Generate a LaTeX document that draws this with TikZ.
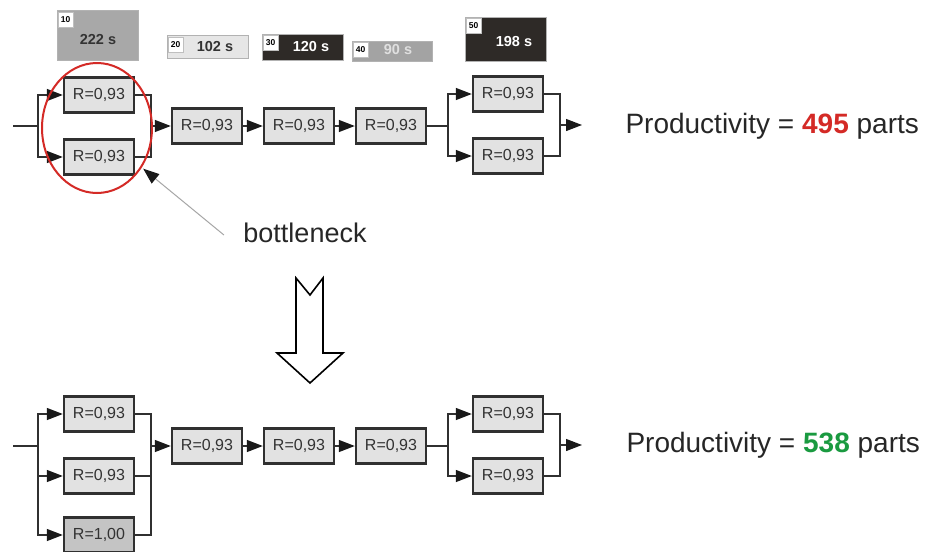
\documentclass[tikz,border=0pt]{standalone}
\usepackage{fontspec}
\setmainfont{Liberation Sans}
\usetikzlibrary{arrows.meta,shapes.geometric,calc}
\definecolor{boxfill}{HTML}{E2E2E2}
\definecolor{boxfilldk}{HTML}{C4C4C4}
\definecolor{boxline}{HTML}{303030}
\definecolor{txt}{HTML}{333333}
\definecolor{labgray}{HTML}{A8A8A8}
\definecolor{lablight}{HTML}{E6E6E6}
\definecolor{labdark}{HTML}{2E2A27}
\definecolor{labmid}{HTML}{A3A3A3}
\definecolor{redbn}{HTML}{D42A26}
\definecolor{greenp}{HTML}{1A9A40}
\tikzset{
  rbox/.style={draw=boxline, line width=2.4pt, fill=boxfill, minimum width=70pt, minimum height=35pt, inner sep=0pt, text=txt, font=\fontsize{16}{18}\selectfont},
  conn/.style={draw=boxline, line width=1.3pt},
  arr/.style={conn, -{Triangle[length=16pt,width=12pt,color=black!90,fill=black!90]}},
  labbox/.style={anchor=north west, inner sep=0pt, draw=gray!60, line width=0.6pt},
  numbox/.style={anchor=north west, fill=white, draw=gray!50, line width=0.4pt, minimum width=15pt, minimum height=15pt, inner sep=0pt, font=\fontsize{8.5}{9}\selectfont\bfseries, text=black},
  labtxt/.style={font=\fontsize{14.5}{16}\selectfont\bfseries},
  prod/.style={anchor=west, font=\fontsize{28}{32}\selectfont, text=black!85}
}
\begin{document}
\begin{tikzpicture}[x=1pt,y=-1pt]
\useasboundingbox[fill=white] (0,0) rectangle (938,552);
% ---- label boxes ----
\node[labbox, fill=labgray, minimum width=81pt, minimum height=50pt] (L10) at (57,10) {};
\node[numbox] (n10) at ([shift={(1,2)}]L10.north west) {10};
\node[labtxt, text=txt] (t10) at (98,40) {222 s};
\node[labbox, fill=lablight, minimum width=81pt, minimum height=23pt] (L20) at (167,35) {};
\node[numbox] (n20) at ([shift={(1,2)}]L20.north west) {20};
\node[labtxt, text=txt] (t20) at (215,47) {102 s};
\node[labbox, fill=labdark, minimum width=81pt, minimum height=26pt] (L30) at (262,34) {};
\node[numbox] (n30) at ([shift={(1,1)}]L30.north west) {30};
\node[labtxt, text=white] (t30) at (311,47) {120 s};
\node[labbox, fill=labmid, minimum width=80pt, minimum height=20pt] (L40) at (352,41) {};
\node[numbox] (n40) at ([shift={(1,1)}]L40.north west) {40};
\node[labtxt, text=white!88!black] (t40) at (398,50) {90 s};
\node[labbox, fill=labdark, minimum width=81pt, minimum height=44pt] (L50) at (465,17) {};
\node[numbox] (n50) at ([shift={(1,1)}]L50.north west) {50};
\node[labtxt, text=white] (t50) at (514,42) {198 s};
% ---- top row ----
\node[rbox] (A1) at (99,95) {R=0,93};
\node[rbox] (A2) at (99,157) {R=0,93};
\node[rbox] (B) at (207,126) {R=0,93};
\node[rbox] (C) at (299,126) {R=0,93};
\node[rbox] (D) at (391,126) {R=0,93};
\node[rbox] (E1) at (508,94) {R=0,93};
\node[rbox] (E2) at (508,156) {R=0,93};
\coordinate (tin) at (13,126);
\coordinate (ts1) at (38,126);
\coordinate (tm1) at (151,126);
\coordinate (ts2) at (448,126);
\coordinate (tm2) at (560,125);
\coordinate (tout) at (582,125);
\draw[conn] (tin) -- (ts1);
\draw[arr] (ts1) |- (A1);
\draw[arr] (ts1) |- (A2);
\draw[conn] (A1) -| (tm1);
\draw[conn] (A2) -| (tm1);
\draw[arr] (tm1) -- (B);
\draw[arr] (B) -- (C);
\draw[arr] (C) -- (D);
\draw[conn] (D) -- (ts2);
\draw[arr] (ts2) |- (E1);
\draw[arr] (ts2) |- (E2);
\draw[conn] (E1) -| (tm2);
\draw[conn] (E2) -| (tm2);
\draw[arr] (tm2) -- (tout);
\node[prod] (p1) at (622,126) {Productivity = \textcolor{redbn}{\bfseries 495} parts};
% ---- bottleneck ----
\node[draw=redbn, line width=2pt, ellipse, minimum width=110pt, minimum height=130pt] (bn) at (97,128) {};
\node[font=\fontsize{27}{30}\selectfont, text=black!85] (bt) at (305,233) {bottleneck};
\draw[gray!70, line width=1pt, -{Triangle[length=16pt,width=12pt,color=black!90,fill=black!90]}] ([xshift=-16pt,yshift=-2pt]bt.west) -- ([shift={(8,-7)}]A2.south east);
% ---- big arrow ----
\draw[line width=1.6pt, fill=white] (296,278) -- (310,295) -- (323,278) -- (323,353) -- (343,353) -- (310,383) -- (277,353) -- (296,353) -- cycle;
% ---- bottom row ----
\node[rbox] (F1) at (99,414) {R=0,93};
\node[rbox] (F2) at (99,476) {R=0,93};
\node[rbox, fill=boxfilldk] (F3) at (99,535) {R=1,00};
\node[rbox] (G) at (207,446) {R=0,93};
\node[rbox] (H) at (299,446) {R=0,93};
\node[rbox] (I) at (391,446) {R=0,93};
\node[rbox] (J1) at (508,414) {R=0,93};
\node[rbox] (J2) at (508,476) {R=0,93};
\coordinate (bin) at (13,446);
\coordinate (bs1) at (38,446);
\coordinate (bm1) at (151,446);
\coordinate (bs2) at (448,446);
\coordinate (bm2) at (560,445);
\coordinate (bout) at (582,445);
\draw[conn] (bin) -- (bs1);
\draw[arr] (bs1) |- (F1);
\draw[arr] (bs1) |- (F2);
\draw[arr] (bs1) |- (F3);
\draw[conn] (F1) -| (bm1);
\draw[conn] (F2) -| (bm1);
\draw[conn] (F3) -| (bm1);
\draw[arr] (bm1) -- (G);
\draw[arr] (G) -- (H);
\draw[arr] (H) -- (I);
\draw[conn] (I) -- (bs2);
\draw[arr] (bs2) |- (J1);
\draw[arr] (bs2) |- (J2);
\draw[conn] (J1) -| (bm2);
\draw[conn] (J2) -| (bm2);
\draw[arr] (bm2) -- (bout);
\node[prod] (p2) at (623,445) {Productivity = \textcolor{greenp}{\bfseries 538} parts};
\end{tikzpicture}
\end{document}
